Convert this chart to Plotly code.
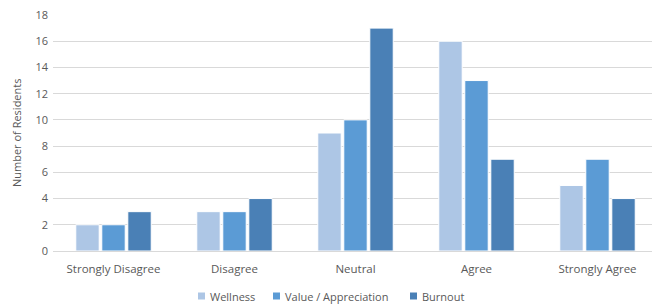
import plotly.graph_objects as go

categories = ["Strongly Disagree", "Disagree", "Neutral", "Agree", "Strongly Agree"]
wellness = [2, 3, 9, 16, 5]
value_appreciation = [2, 3, 10, 13, 7]
burnout = [3, 4, 17, 7, 4]
series_names = ["Wellness", "Value / Appreciation", "Burnout"]
colors = ["#adc6e5", "#5b9bd5", "#4a80b6"]

gray = "#595959"
fig = go.Figure()
for name, vals, c in zip(series_names, [wellness, value_appreciation, burnout], colors):
    fig.add_trace(go.Bar(x=categories, y=vals, name=name, marker_color=c,
                         marker_line=dict(color="white", width=1)))

# legend drawn as keys + text below the plot (positions in page pixels)
L, W, B, H = 45, 605, 243, 236  # plot domain within figure (pixels)
key_starts = [198, 273, 410]
text_starts = [209, 284, 421]
legend_y = 296
shapes, annos = [], []
for name, c, ks, ts in zip(series_names, colors, key_starts, text_starts):
    yp = (B - (legend_y - 8)) / H
    shapes.append(dict(type="rect", xref="paper", yref="paper",
                       xsizemode="pixel", ysizemode="pixel",
                       xanchor=(ks - 8 - L) / W, yanchor=yp,
                       x0=0, x1=7, y0=-3.5, y1=3.5,
                       fillcolor=c, line=dict(width=0)))
    annos.append(dict(text=name, xref="paper", yref="paper", x=(ts - 8 - L) / W, y=yp,
                      xanchor="left", yanchor="middle", showarrow=False,
                      font=dict(size=11, color=gray), borderpad=0))
annos.append(dict(text="Number of Residents", x=-37 / W, xref="paper", xanchor="center",
                  y=0.5, yref="paper", yanchor="middle", textangle=-90, showarrow=False,
                  font=dict(size=11, color=gray), borderpad=0))

fig.update_layout(
    width=652, height=297,
    margin=dict(l=L, r=2, t=7, b=54, autoexpand=False),
    paper_bgcolor="white", plot_bgcolor="white",
    barmode="group", bargap=0.355, bargroupgap=0.1,
    showlegend=False,
    font=dict(family="Open Sans, Liberation Sans, sans-serif", size=11, color=gray),
    xaxis=dict(showline=True, linecolor="#d9d9d9", linewidth=1, ticks="",
               ticklabelstandoff=7,
               tickfont=dict(size=11.5, color=gray), automargin=False),
    yaxis=dict(range=[0, 18], dtick=2, showgrid=True, gridcolor="#d9d9d9", gridwidth=1,
               zeroline=False, ticks="", ticklabelstandoff=4, ticklabeloverflow="allow",
               tickfont=dict(size=11, color=gray), automargin=False),
    shapes=shapes,
    annotations=annos,
)
fig.write_html("out.html")
